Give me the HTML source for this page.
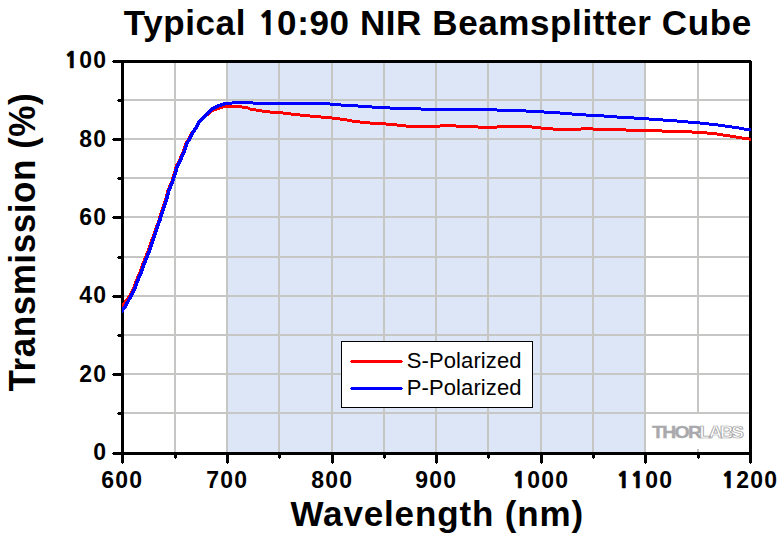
<!DOCTYPE html>
<html><head><meta charset="utf-8"><title>Typical 10:90 NIR Beamsplitter Cube</title>
<style>html,body{margin:0;padding:0;background:#fff;overflow:hidden}svg{display:block}</style>
</head><body><svg width="780" height="535" viewBox="0 0 780 535"><rect x="0" y="0" width="780" height="535" fill="#fff"/><rect x="226" y="63" width="420" height="389" fill="#dce6f6"/><rect x="174" y="63" width="2" height="389" fill="#c6c6c5"/><rect x="226" y="63" width="2" height="389" fill="#c6c6c5"/><rect x="278" y="63" width="2" height="389" fill="#c6c6c5"/><rect x="331" y="63" width="2" height="389" fill="#c6c6c5"/><rect x="383" y="63" width="2" height="389" fill="#c6c6c5"/><rect x="435" y="63" width="2" height="389" fill="#c6c6c5"/><rect x="487" y="63" width="2" height="389" fill="#c6c6c5"/><rect x="540" y="63" width="2" height="389" fill="#c6c6c5"/><rect x="592" y="63" width="2" height="389" fill="#c6c6c5"/><rect x="644" y="63" width="2" height="389" fill="#c6c6c5"/><rect x="697" y="63" width="2" height="389" fill="#c6c6c5"/><rect x="124" y="99" width="625" height="2" fill="#c6c6c5"/><rect x="124" y="138" width="625" height="2" fill="#c6c6c5"/><rect x="124" y="177" width="625" height="2" fill="#c6c6c5"/><rect x="124" y="216" width="625" height="2" fill="#c6c6c5"/><rect x="124" y="256" width="625" height="2" fill="#c6c6c5"/><rect x="124" y="295" width="625" height="2" fill="#c6c6c5"/><rect x="124" y="334" width="625" height="2" fill="#c6c6c5"/><rect x="124" y="373" width="625" height="2" fill="#c6c6c5"/><rect x="124" y="412" width="625" height="2" fill="#c6c6c5"/><rect x="646" y="414" width="103" height="35" fill="#fff"/><rect x="121" y="60" width="631" height="3" fill="#000"/><rect x="121" y="452" width="631" height="3" fill="#000"/><rect x="121" y="60" width="3" height="395" fill="#000"/><rect x="749" y="60" width="3" height="395" fill="#000"/><rect x="751" y="60" width="1" height="1" fill="#fff"/><rect x="113" y="60" width="8" height="3" fill="#000"/><rect x="112" y="61" width="1" height="1" fill="#000"/><rect x="113" y="138" width="8" height="3" fill="#000"/><rect x="112" y="139" width="1" height="1" fill="#000"/><rect x="113" y="216" width="8" height="3" fill="#000"/><rect x="112" y="217" width="1" height="1" fill="#000"/><rect x="113" y="295" width="8" height="3" fill="#000"/><rect x="112" y="296" width="1" height="1" fill="#000"/><rect x="113" y="373" width="8" height="3" fill="#000"/><rect x="112" y="374" width="1" height="1" fill="#000"/><rect x="113" y="452" width="8" height="3" fill="#000"/><rect x="112" y="453" width="1" height="1" fill="#000"/><rect x="118" y="99" width="3" height="3" fill="#000"/><rect x="117" y="100" width="1" height="1" fill="#000"/><rect x="118" y="177" width="3" height="3" fill="#000"/><rect x="117" y="178" width="1" height="1" fill="#000"/><rect x="118" y="256" width="3" height="3" fill="#000"/><rect x="117" y="257" width="1" height="1" fill="#000"/><rect x="118" y="334" width="3" height="3" fill="#000"/><rect x="117" y="335" width="1" height="1" fill="#000"/><rect x="118" y="412" width="3" height="3" fill="#000"/><rect x="117" y="413" width="1" height="1" fill="#000"/><rect x="121" y="455" width="3" height="8" fill="#000"/><rect x="122" y="463" width="1" height="1" fill="#000"/><rect x="226" y="455" width="3" height="8" fill="#000"/><rect x="227" y="463" width="1" height="1" fill="#000"/><rect x="331" y="455" width="3" height="8" fill="#000"/><rect x="332" y="463" width="1" height="1" fill="#000"/><rect x="435" y="455" width="3" height="8" fill="#000"/><rect x="436" y="463" width="1" height="1" fill="#000"/><rect x="540" y="455" width="3" height="8" fill="#000"/><rect x="541" y="463" width="1" height="1" fill="#000"/><rect x="644" y="455" width="3" height="8" fill="#000"/><rect x="645" y="463" width="1" height="1" fill="#000"/><rect x="749" y="455" width="3" height="8" fill="#000"/><rect x="750" y="463" width="1" height="1" fill="#000"/><rect x="174" y="455" width="3" height="3" fill="#000"/><rect x="175" y="458" width="1" height="1" fill="#000"/><rect x="278" y="455" width="3" height="3" fill="#000"/><rect x="279" y="458" width="1" height="1" fill="#000"/><rect x="383" y="455" width="3" height="3" fill="#000"/><rect x="384" y="458" width="1" height="1" fill="#000"/><rect x="487" y="455" width="3" height="3" fill="#000"/><rect x="488" y="458" width="1" height="1" fill="#000"/><rect x="592" y="455" width="3" height="3" fill="#000"/><rect x="593" y="458" width="1" height="1" fill="#000"/><rect x="697" y="455" width="3" height="3" fill="#000"/><rect x="698" y="458" width="1" height="1" fill="#000"/><defs><clipPath id="pc"><rect x="122" y="60" width="629" height="395"/></clipPath></defs><g clip-path="url(#pc)"><path d="M121.50,307.50 L123.00,305.50 L129.90,296.00 L133.20,290.00 L136.00,282.00 L139.50,274.00 L143.00,264.00 L146.80,255.00 L150.00,246.00 L152.90,238.00 L156.40,228.00 L159.30,220.00 L161.60,212.00 L163.80,206.00 L166.30,198.00 L168.40,190.00 L171.90,182.00 L174.40,174.00 L176.70,166.00 L179.80,160.00 L183.40,152.00 L185.90,144.00 L188.40,140.00 L190.30,136.00 L192.90,132.00 L197.00,126.30 L198.40,123.30 L200.00,120.80 L202.00,118.90 L204.00,117.10 L206.00,115.40 L208.00,113.80 L210.00,112.00 L212.00,110.60 L214.50,109.50 L217.50,108.50 L220.50,107.50 L223.00,106.60 L226.00,106.50" fill="none" stroke="#ff0000" stroke-width="3.5" stroke-linejoin="round" shape-rendering="crispEdges"/><g fill="#ff0000"><rect x="222" y="105" width="20" height="3"/><rect x="242" y="106" width="6" height="3"/><rect x="248" y="107" width="2" height="3"/><rect x="250" y="108" width="6" height="3"/><rect x="256" y="109" width="6" height="3"/><rect x="262" y="110" width="8" height="3"/><rect x="270" y="111" width="13" height="3"/><rect x="283" y="112" width="8" height="3"/><rect x="291" y="113" width="9" height="3"/><rect x="300" y="114" width="10" height="3"/><rect x="310" y="115" width="11" height="3"/><rect x="321" y="116" width="11" height="3"/><rect x="332" y="117" width="8" height="3"/><rect x="340" y="118" width="7" height="3"/><rect x="347" y="119" width="5" height="3"/><rect x="352" y="120" width="8" height="3"/><rect x="360" y="121" width="10" height="3"/><rect x="370" y="122" width="16" height="3"/><rect x="386" y="123" width="11" height="3"/><rect x="397" y="124" width="9" height="3"/><rect x="406" y="125" width="34" height="3"/><rect x="440" y="124" width="16" height="3"/><rect x="456" y="125" width="22" height="3"/><rect x="478" y="126" width="19" height="3"/><rect x="497" y="125" width="35" height="3"/><rect x="532" y="126" width="9" height="3"/><rect x="541" y="127" width="12" height="3"/><rect x="553" y="128" width="28" height="3"/><rect x="581" y="127" width="12" height="3"/><rect x="593" y="128" width="33" height="3"/><rect x="626" y="129" width="36" height="3"/><rect x="662" y="130" width="30" height="3"/><rect x="692" y="131" width="15" height="3"/><rect x="707" y="132" width="10" height="3"/><rect x="717" y="133" width="6" height="3"/><rect x="723" y="134" width="7" height="3"/><rect x="730" y="135" width="6" height="3"/><rect x="736" y="136" width="6" height="3"/><rect x="742" y="137" width="7" height="3"/><rect x="749" y="138" width="2" height="3"/></g><path d="M121.50,312.50 L123.00,309.50 L125.60,306.00 L130.90,296.00 L134.20,290.00 L137.00,282.00 L140.50,274.00 L144.00,264.00 L147.80,255.00 L151.00,246.00 L153.50,238.00 L157.00,228.00 L159.90,220.00 L162.20,212.00 L164.40,206.00 L166.90,198.00 L169.00,190.00 L172.50,182.00 L175.00,174.00 L177.30,166.00 L180.40,160.00 L184.00,152.00 L186.50,144.00 L189.00,140.00 L190.90,136.00 L193.10,132.00 L197.00,126.30 L198.40,123.30 L200.00,120.60 L202.00,118.60 L204.00,116.60 L206.00,115.00 L208.00,113.10 L211.00,109.90 L213.00,108.60 L215.00,107.50 L217.00,106.50 L219.50,105.50 L222.50,104.50 L225.00,103.70 L228.00,103.50" fill="none" stroke="#0000ff" stroke-width="3.5" stroke-linejoin="round" shape-rendering="crispEdges"/><g fill="#0000ff"><rect x="224" y="102" width="8" height="3"/><rect x="232" y="101" width="21" height="3"/><rect x="253" y="102" width="77" height="3"/><rect x="330" y="103" width="11" height="3"/><rect x="341" y="104" width="17" height="3"/><rect x="358" y="105" width="14" height="3"/><rect x="372" y="106" width="18" height="3"/><rect x="390" y="107" width="31" height="3"/><rect x="421" y="108" width="76" height="3"/><rect x="497" y="109" width="29" height="3"/><rect x="526" y="110" width="18" height="3"/><rect x="544" y="111" width="16" height="3"/><rect x="560" y="112" width="12" height="3"/><rect x="572" y="113" width="14" height="3"/><rect x="586" y="114" width="18" height="3"/><rect x="604" y="115" width="13" height="3"/><rect x="617" y="116" width="17" height="3"/><rect x="634" y="117" width="15" height="3"/><rect x="649" y="118" width="14" height="3"/><rect x="663" y="119" width="14" height="3"/><rect x="677" y="120" width="11" height="3"/><rect x="688" y="121" width="12" height="3"/><rect x="700" y="122" width="9" height="3"/><rect x="709" y="123" width="9" height="3"/><rect x="718" y="124" width="7" height="3"/><rect x="725" y="125" width="7" height="3"/><rect x="732" y="126" width="7" height="3"/><rect x="739" y="127" width="5" height="3"/><rect x="744" y="128" width="7" height="3"/></g></g><g style="font-family:'Liberation Sans',Arial,sans-serif;font-weight:bold;font-size:23px;letter-spacing:1.2px" fill="#000"><text y="68"><tspan x="64.78" style="font-family:'NanumGothic','Liberation Sans',sans-serif;font-weight:800;font-size:21.69px" stroke="#000" stroke-width="0.7">1</tspan><tspan x="79.22">0</tspan><tspan x="93.21">0</tspan></text><text y="147"><tspan x="79.22">8</tspan><tspan x="93.21">0</tspan></text><text y="225"><tspan x="79.22">6</tspan><tspan x="93.21">0</tspan></text><text y="303"><tspan x="79.22">4</tspan><tspan x="93.21">0</tspan></text><text y="382"><tspan x="79.22">2</tspan><tspan x="93.21">0</tspan></text><text y="460"><tspan x="93.21">0</tspan></text><text y="488"><tspan x="101.21">6</tspan><tspan x="115.20">0</tspan><tspan x="129.20">0</tspan></text><text y="488"><tspan x="206.21">7</tspan><tspan x="220.20">0</tspan><tspan x="234.20">0</tspan></text><text y="488"><tspan x="311.21">8</tspan><tspan x="325.20">0</tspan><tspan x="339.20">0</tspan></text><text y="488"><tspan x="415.21">9</tspan><tspan x="429.20">0</tspan><tspan x="443.20">0</tspan></text><text y="488"><tspan x="512.77" style="font-family:'NanumGothic','Liberation Sans',sans-serif;font-weight:800;font-size:21.69px" stroke="#000" stroke-width="0.7">1</tspan><tspan x="527.21">0</tspan><tspan x="541.20">0</tspan><tspan x="555.19">0</tspan></text><text y="488"><tspan x="616.77" style="font-family:'NanumGothic','Liberation Sans',sans-serif;font-weight:800;font-size:21.69px" stroke="#000" stroke-width="0.7">1</tspan><tspan x="630.76" style="font-family:'NanumGothic','Liberation Sans',sans-serif;font-weight:800;font-size:21.69px" stroke="#000" stroke-width="0.7">1</tspan><tspan x="645.20">0</tspan><tspan x="659.19">0</tspan></text><text y="488"><tspan x="721.77" style="font-family:'NanumGothic','Liberation Sans',sans-serif;font-weight:800;font-size:21.69px" stroke="#000" stroke-width="0.7">1</tspan><tspan x="736.21">2</tspan><tspan x="750.20">0</tspan><tspan x="764.19">0</tspan></text></g><text x="123.8" y="35" style="font-family:'Liberation Sans',Arial,sans-serif;font-weight:bold;font-size:35px;letter-spacing:0.6px" fill="#000">Typical <tspan dx="1.40" style="font-family:'NanumGothic','Liberation Sans',sans-serif;font-weight:800;font-size:32.38px" stroke="#000" stroke-width="0.15">1</tspan><tspan dx="-0.86">0</tspan>:90 NIR Beamsplitter Cube</text><text x="290.5" y="526" style="font-family:'Liberation Sans',Arial,sans-serif;font-weight:bold;font-size:35px;letter-spacing:0.85px" fill="#000">Wavelength (nm)</text><text transform="translate(35,391.5) rotate(-90) scale(1,1.06)" x="0" y="0" style="font-family:'Liberation Sans',Arial,sans-serif;font-weight:bold;font-size:35px;letter-spacing:0.57px" fill="#000">Transmission (%)</text><rect x="341.5" y="341.5" width="191" height="66" fill="#fff" stroke="#000" stroke-width="1"/><g fill="#ff0000"><rect x="351" y="360" width="51" height="3"/><rect x="350" y="361" width="53" height="1"/></g><g fill="#0000ff"><rect x="351" y="387" width="51" height="3"/><rect x="350" y="388" width="53" height="1"/></g><g style="font-family:'Liberation Sans',Arial,sans-serif;font-size:22px;letter-spacing:0.1px" fill="#000"><text x="406.8" y="367.5">S-Polarized</text><text x="406.8" y="394.8">P-Polarized</text></g><g transform="translate(652,437.8) scale(1.2,1)"><text x="0" y="0" style="font-family:'Liberation Sans',Arial,sans-serif;font-weight:bold;font-size:16.2px;letter-spacing:-1.4px" fill="#a9a9ad" stroke="#a9a9ad" stroke-width="0.35">THOR</text></g><g transform="translate(699.3,437.8) scale(1.2,1)"><text x="0" y="0" style="font-family:'Liberation Sans',Arial,sans-serif;font-weight:bold;font-size:16.2px;letter-spacing:-2.3px" fill="#fff" stroke="#a4a4a4" stroke-width="0.75">LABS</text></g></svg></body></html>
